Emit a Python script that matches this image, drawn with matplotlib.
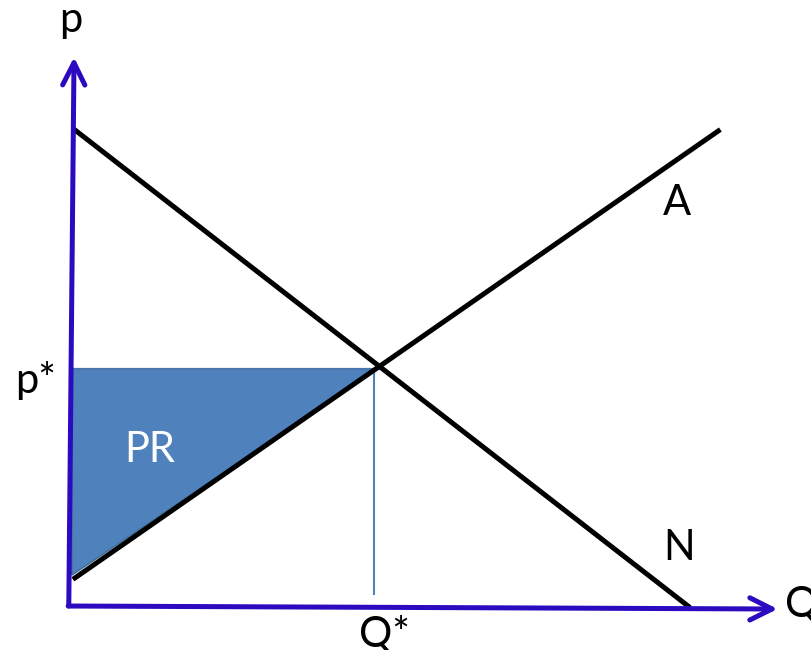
import matplotlib
matplotlib.use('Agg')
import matplotlib.pyplot as plt

# (Q, p units; demand hits both axes at 10)
demand_q = [0.08, 10.0]
demand_p = [10.0, 0.0]
supply_q = [0.08, 10.49]
supply_p = [0.59, 9.98]
q_star = 4.98
p_star = 4.98
pr_q = [0.03, q_star, 0.03]
pr_p = [p_star, p_star, 0.65]
q_line_bottom = 0.25

axis_col = '#2B0AC0'
fill_col = '#4F81BD'
plt.rcParams['font.family'] = ['Lato', 'DejaVu Sans']

fig = plt.figure(figsize=(8.11, 6.5), dpi=100)
ax = fig.add_axes([0, 0, 1, 1])
ax.set_xlim(-1.133, 11.99)
ax.set_ylim(-0.924, 12.731)
ax.axis('off')

# PR triangle
ax.fill(pr_q, pr_p, color=fill_col, ec='#41719C', lw=1.2, zorder=1)
ax.plot([0.03, q_star], [p_star, p_star], color='#4A76AE', lw=1.6, zorder=2)
ax.plot([q_star - 0.06, q_star - 0.06], [p_star, q_line_bottom], color=fill_col, lw=1.5, zorder=2)

# curves
ax.plot(demand_q, demand_p, color='black', lw=3.6, zorder=3)
ax.plot(supply_q, supply_p, color='black', lw=3.6, zorder=3)

# axes with arrows
arr = dict(arrowstyle='->,head_length=0.8,head_width=0.4', color=axis_col, lw=3.6,
           shrinkA=0, shrinkB=0, mutation_scale=20, capstyle='round')
ax.annotate('', xy=(0.065, 11.53), xytext=(-0.02, 0), arrowprops=arr, zorder=4)
ax.annotate('', xy=(11.45, -0.063), xytext=(-0.03, 0), arrowprops=arr, zorder=4)

fs = 30
ax.text(0.016, 12.06, 'p', fontsize=fs, ha='center', va='baseline')
ax.text(-0.55, 4.47, 'p*', fontsize=fs, ha='center', va='baseline')
ax.text(1.29, 3.03, 'PR', fontsize=fs, ha='center', va='baseline', color='white')
ax.text(9.82, 8.21, 'A', fontsize=fs, ha='center', va='baseline')
ax.text(9.85, 0.97, 'N', fontsize=fs, ha='center', va='baseline')
ax.text(11.57, -0.23, 'Q', fontsize=fs, ha='left', va='baseline')
ax.text(5.08, -0.86, 'Q*', fontsize=fs, ha='center', va='baseline')

plt.savefig('out.png', dpi=100)
